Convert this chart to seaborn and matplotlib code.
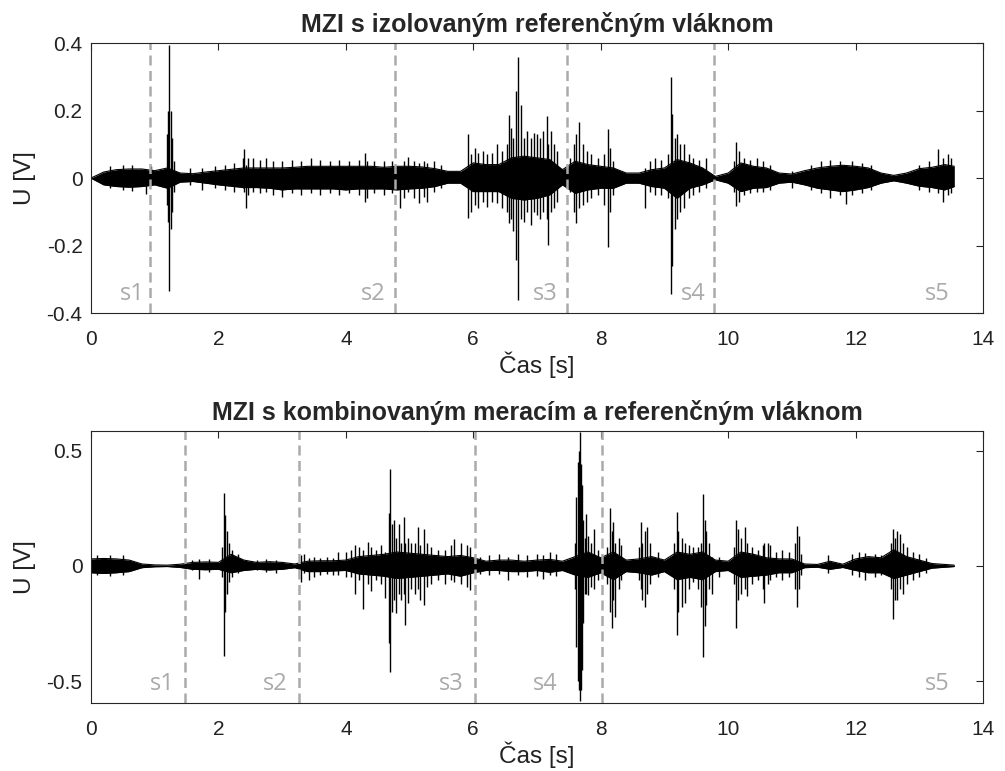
import matplotlib
matplotlib.use("Agg")
import matplotlib.pyplot as plt
import matplotlib.transforms as mtransforms
import seaborn as sns
import pandas as pd

# time grid of the dense signal core (s)
band_t = [0.0, 0.2, 0.4, 0.6, 0.8, 1.0, 1.2, 1.4, 1.6, 1.8, 2.0, 2.2, 2.4, 2.6, 2.8,
          3.0, 3.2, 3.4, 3.6, 3.8, 4.0, 4.2, 4.4, 4.6, 4.8, 5.0, 5.2, 5.4, 5.6, 5.8,
          6.0, 6.2, 6.4, 6.6, 6.8, 7.0, 7.2, 7.4, 7.6, 7.8, 8.0, 8.2, 8.4, 8.6, 8.8,
          9.0, 9.2, 9.4, 9.6, 9.8, 10.0, 10.2, 10.4, 10.6, 10.8, 11.0, 11.2, 11.4,
          11.6, 11.8, 12.0, 12.2, 12.4, 12.6, 12.8, 13.0, 13.2, 13.4, 13.55]

# ---- top panel: core envelope (V) ----
top_hi = [0.0, 0.018, 0.025, 0.027, 0.027, 0.022, 0.030, 0.015, 0.013, 0.018, 0.022,
          0.026, 0.030, 0.030, 0.030, 0.030, 0.032, 0.035, 0.035, 0.035, 0.035, 0.035,
          0.035, 0.032, 0.035, 0.035, 0.033, 0.028, 0.020, 0.020, 0.045, 0.040, 0.040,
          0.060, 0.065, 0.060, 0.055, 0.025, 0.050, 0.040, 0.035, 0.030, 0.015, 0.015,
          0.025, 0.030, 0.055, 0.045, 0.030, 0.005, 0.015, 0.045, 0.035, 0.030, 0.015,
          0.012, 0.022, 0.030, 0.035, 0.038, 0.035, 0.030, 0.015, 0.008, 0.015, 0.028,
          0.032, 0.040, 0.035]
top_lo = [0.0, -0.020, -0.025, -0.027, -0.025, -0.020, -0.030, -0.012, -0.010, -0.015,
          -0.020, -0.024, -0.028, -0.028, -0.030, -0.035, -0.032, -0.032, -0.032, -0.032,
          -0.035, -0.032, -0.032, -0.032, -0.035, -0.032, -0.030, -0.025, -0.015, -0.015,
          -0.040, -0.040, -0.040, -0.060, -0.065, -0.060, -0.050, -0.020, -0.045, -0.035,
          -0.030, -0.030, -0.015, -0.015, -0.025, -0.030, -0.060, -0.030, -0.020, -0.005,
          -0.015, -0.040, -0.030, -0.028, -0.015, -0.012, -0.020, -0.030, -0.035, -0.040,
          -0.035, -0.028, -0.015, -0.008, -0.015, -0.024, -0.028, -0.035, -0.025]

# ---- top panel: spikes (time, max, min) ----
top_spk_t = [0.30, 0.50, 0.65, 0.86, 0.95,
             1.19, 1.21, 1.23, 1.25, 1.27, 1.30,
             1.55, 1.75, 1.95, 2.10, 2.25,
             2.38, 2.40, 2.43, 2.46,
             2.55, 2.65, 2.75, 2.85, 3.00, 3.15, 3.30, 3.45, 3.60, 3.75, 3.90, 4.05,
             4.20, 4.30, 4.34, 4.45, 4.60,
             4.72, 4.85, 4.92, 4.98, 5.07, 5.15, 5.22, 5.28, 5.38, 5.50,
             5.92, 5.97, 6.03, 6.08, 6.15, 6.22, 6.30, 6.38, 6.45,
             6.53, 6.56, 6.60, 6.63, 6.67, 6.70, 6.75, 6.80, 6.85, 6.90, 6.95, 7.00,
             7.05, 7.10, 7.15, 7.17, 7.22, 7.27, 7.32,
             7.52, 7.58, 7.62, 7.66, 7.72, 7.78, 7.85, 7.95, 8.05, 8.11, 8.14, 8.20,
             8.70, 8.78, 8.85, 8.95, 9.05, 9.10, 9.12, 9.16, 9.20, 9.25, 9.30, 9.38,
             9.45, 9.55, 9.65,
             10.10, 10.13, 10.17, 10.25, 10.35, 10.45, 10.55, 10.65, 11.00, 11.30,
             11.45, 11.60, 11.75, 11.85, 11.95, 12.10, 12.25, 13.00, 13.15, 13.30,
             13.38, 13.45, 13.50]
top_spk_hi = [0.035, 0.040, 0.038, 0.012, 0.035,
              0.130, 0.200, 0.394, 0.200, 0.120, 0.050,
              0.030, 0.030, 0.035, 0.040, 0.045,
              0.060, 0.086, 0.040, 0.060,
              0.060, 0.055, 0.060, 0.050, 0.050, 0.055, 0.050, 0.060, 0.055, 0.050,
              0.055, 0.050,
              0.055, 0.074, 0.050, 0.050, 0.050,
              0.050, 0.030, 0.050, 0.063, 0.050, 0.045, 0.050, 0.045, 0.050, 0.040,
              0.131, 0.070, 0.090, 0.075, 0.080, 0.070, 0.075, 0.100, 0.080,
              0.100, 0.188, 0.150, 0.120, 0.257, 0.358, 0.216, 0.120, 0.140, 0.120,
              0.135, 0.130,
              0.120, 0.140, 0.183, 0.100, 0.140, 0.100, 0.080,
              0.060, 0.100, 0.130, 0.167, 0.100, 0.080, 0.070, 0.060, 0.070, 0.145,
              0.090, 0.050,
              0.030, 0.050, 0.060, 0.055, 0.070, 0.300, 0.190, 0.120, 0.130, 0.100,
              0.100, 0.070,
              0.060, 0.055, 0.060,
              0.050, 0.107, 0.080, 0.060, 0.055, 0.060, 0.050, 0.040, 0.020, 0.040,
              0.050, 0.055, 0.050, 0.040, 0.050, 0.045, 0.040, 0.040, 0.050, 0.085,
              0.060, 0.070, 0.060]
top_spk_lo = [-0.030, -0.035, -0.038, -0.047, -0.020,
              -0.080, -0.130, -0.336, -0.150, -0.100, -0.040,
              -0.020, -0.035, -0.030, -0.035, -0.040,
              -0.030, -0.040, -0.089, -0.050,
              -0.040, -0.045, -0.040, -0.050, -0.055, -0.045, -0.050, -0.045, -0.050,
              -0.045, -0.050, -0.045,
              -0.050, -0.070, -0.060, -0.045, -0.050,
              -0.045, -0.089, -0.060, -0.040, -0.060, -0.075, -0.055, -0.070, -0.040,
              -0.030,
              -0.118, -0.100, -0.080, -0.090, -0.070, -0.085, -0.070, -0.075, -0.090,
              -0.100, -0.133, -0.120, -0.158, -0.242, -0.360, -0.120, -0.130, -0.100,
              -0.140, -0.100, -0.110,
              -0.120, -0.100, -0.120, -0.197, -0.100, -0.090, -0.070,
              -0.040, -0.100, -0.134, -0.090, -0.080, -0.070, -0.060, -0.050, -0.080,
              -0.204, -0.100, -0.050,
              -0.090, -0.040, -0.050, -0.050, -0.060, -0.345, -0.260, -0.150, -0.120,
              -0.100, -0.090, -0.060,
              -0.050, -0.040, -0.030,
              -0.040, -0.082, -0.070, -0.050, -0.045, -0.040, -0.040, -0.035, -0.030,
              -0.035, -0.045, -0.060, -0.050, -0.076, -0.050, -0.045, -0.035, -0.035,
              -0.040, -0.045, -0.070, -0.050, -0.045]

# ---- bottom panel: core envelope (V) ----
bot_hi = [0.030, 0.032, 0.030, 0.025, 0.008, 0.004, 0.003, 0.007, 0.015, 0.017, 0.015,
          0.050, 0.025, 0.015, 0.018, 0.015, 0.008, 0.020, 0.022, 0.022, 0.025, 0.040,
          0.045, 0.050, 0.060, 0.055, 0.050, 0.045, 0.040, 0.045, 0.035, 0.020, 0.025,
          0.025, 0.020, 0.025, 0.028, 0.020, 0.040, 0.060, 0.035, 0.060, 0.025, 0.030,
          0.040, 0.025, 0.060, 0.050, 0.060, 0.025, 0.020, 0.060, 0.050, 0.035, 0.030,
          0.030, 0.008, 0.006, 0.020, 0.007, 0.030, 0.040, 0.035, 0.070, 0.040, 0.025,
          0.010, 0.006, 0.003]
bot_lo = [-0.030, -0.033, -0.030, -0.025, -0.008, -0.004, -0.003, -0.007, -0.015,
          -0.017, -0.015, -0.030, -0.020, -0.015, -0.018, -0.015, -0.008, -0.025, -0.025,
          -0.022, -0.020, -0.035, -0.040, -0.045, -0.055, -0.050, -0.045, -0.040, -0.035,
          -0.045, -0.030, -0.020, -0.020, -0.025, -0.025, -0.020, -0.028, -0.020, -0.040,
          -0.050, -0.030, -0.060, -0.025, -0.030, -0.040, -0.025, -0.060, -0.050, -0.060,
          -0.025, -0.020, -0.050, -0.045, -0.040, -0.030, -0.030, -0.008, -0.006, -0.015,
          -0.007, -0.020, -0.030, -0.030, -0.055, -0.040, -0.025, -0.010, -0.006, -0.003]

# ---- bottom panel: spikes (time, max, min) ----
bot_spk_t = [0.10, 0.30, 0.50,
             1.58, 1.70, 1.85,
             2.06, 2.09, 2.11, 2.13, 2.16, 2.22, 2.30,
             2.60, 2.75, 2.90,
             3.30, 3.34, 3.42, 3.50, 3.60, 3.70, 3.80, 3.88,
             4.00, 4.08, 4.14, 4.20, 4.27, 4.35, 4.40, 4.48, 4.55, 4.61,
             4.67, 4.70, 4.73, 4.76, 4.79, 4.83, 4.87, 4.91, 4.93, 4.98, 5.03, 5.08,
             5.13, 5.16, 5.22, 5.28, 5.33,
             5.45, 5.55, 5.65, 5.70, 5.80, 5.90, 5.95,
             6.10, 6.25, 6.40, 6.55, 6.70, 6.85, 7.00, 7.10, 7.20, 7.30,
             7.60, 7.62, 7.64, 7.66, 7.675, 7.69, 7.71, 7.73, 7.75,
             7.77, 7.80, 7.85, 7.90, 7.95,
             8.10, 8.15, 8.17, 8.20, 8.23, 8.28, 8.32,
             8.60, 8.63, 8.65, 8.70, 8.73, 8.78, 8.90,
             9.15, 9.19, 9.22, 9.27, 9.32, 9.38, 9.45,
             9.52, 9.57, 9.61, 9.63, 9.66, 9.70, 9.75, 9.85,
             10.10, 10.13, 10.16, 10.20, 10.26, 10.30, 10.38, 10.47, 10.55, 10.57,
             10.62, 10.66, 10.75, 10.85, 10.95,
             11.05, 11.08, 11.11, 11.15, 11.57,
             11.95, 12.05, 12.15, 12.30, 12.40,
             12.55, 12.59, 12.62, 12.65, 12.70, 12.75, 12.80, 12.90, 13.00, 13.10]
bot_spk_hi = [0.045, 0.048, 0.045,
              0.025, 0.030, 0.030,
              0.080, 0.317, 0.220, 0.150, 0.100, 0.070, 0.050,
              0.025, 0.030, 0.025,
              0.045, 0.050, 0.035, 0.040, 0.035, 0.040, 0.035, 0.060,
              0.060, 0.070, 0.089, 0.080, 0.070, 0.104, 0.080, 0.070, 0.090, 0.060,
              0.229, 0.420, 0.180, 0.200, 0.120, 0.180, 0.100, 0.213, 0.100, 0.120,
              0.100, 0.100,
              0.170, 0.090, 0.160, 0.100, 0.080,
              0.070, 0.070, 0.090, 0.118, 0.100, 0.090, 0.080,
              0.040, 0.045, 0.050, 0.040, 0.050, 0.045, 0.050, 0.045, 0.060, 0.050,
              0.100, 0.300, 0.450, 0.500, 0.580, 0.440, 0.350, 0.200, 0.120,
              0.224, 0.130, 0.100, 0.160, 0.070,
              0.080, 0.253, 0.150, 0.190, 0.100, 0.120, 0.090,
              0.080, 0.190, 0.100, 0.150, 0.170, 0.100, 0.060,
              0.100, 0.233, 0.150, 0.120, 0.100, 0.090, 0.080,
              0.080, 0.100, 0.310, 0.200, 0.150, 0.100, 0.040, 0.040,
              0.080, 0.200, 0.160, 0.120, 0.170, 0.100, 0.080, 0.070, 0.090, 0.100,
              0.100, 0.090, 0.060, 0.070, 0.060,
              0.100, 0.175, 0.130, 0.050, 0.045,
              0.050, 0.060, 0.055, 0.050, 0.045,
              0.100, 0.160, 0.120, 0.150, 0.140, 0.100, 0.080, 0.060, 0.050, 0.035]
bot_spk_lo = [-0.040, -0.045, -0.040,
              -0.020, -0.055, -0.025,
              -0.050, -0.390, -0.200, -0.120, -0.070, -0.050, -0.030,
              -0.020, -0.025, -0.030,
              -0.070, -0.030, -0.060, -0.050, -0.040, -0.035, -0.040, -0.040,
              -0.050, -0.050, -0.123, -0.060, -0.188, -0.080, -0.110, -0.060, -0.080,
              -0.140,
              -0.334, -0.460, -0.200, -0.150, -0.204, -0.120, -0.150, -0.120, -0.255,
              -0.160, -0.100, -0.120,
              -0.100, -0.150, -0.170, -0.090, -0.080,
              -0.060, -0.080, -0.060, -0.070, -0.080, -0.090, -0.106,
              -0.035, -0.040, -0.035, -0.060, -0.040, -0.050, -0.045, -0.055, -0.040,
              -0.045,
              -0.100, -0.350, -0.500, -0.540, -0.587, -0.540, -0.450, -0.250, -0.120,
              -0.120, -0.125, -0.090, -0.100, -0.060,
              -0.080, -0.200, -0.270, -0.150, -0.220, -0.100, -0.060,
              -0.060, -0.100, -0.150, -0.180, -0.120, -0.080, -0.050,
              -0.100, -0.300, -0.200, -0.180, -0.160, -0.100, -0.070,
              -0.100, -0.180, -0.395, -0.260, -0.170, -0.100, -0.120, -0.050,
              -0.080, -0.270, -0.150, -0.120, -0.100, -0.130, -0.080, -0.060, -0.100,
              -0.160, -0.080, -0.060, -0.050, -0.060, -0.050,
              -0.100, -0.180, -0.100, -0.040, -0.030,
              -0.040, -0.050, -0.060, -0.050, -0.040,
              -0.100, -0.230, -0.150, -0.150, -0.100, -0.120, -0.080, -0.060, -0.050,
              -0.030]

# section markers and their labels
top_marks = [0.93, 4.77, 7.47, 9.78]
top_lbl_x = [0.84, 4.63, 7.33, 9.64, 13.48]
bot_marks = [1.48, 3.27, 6.03, 8.02]
bot_lbl_x = [1.32, 3.08, 5.85, 7.33, 13.48]
sec_labels = ["s1", "s2", "s3", "s4", "s5"]

titles = ["MZI s izolovaným referenčným vláknom",
          "MZI s kombinovaným meracím a referenčným vláknom"]

for a, b, c in [(top_spk_t, top_spk_hi, top_spk_lo), (bot_spk_t, bot_spk_hi, bot_spk_lo)]:
    assert len(a) == len(b) == len(c), (len(a), len(b), len(c))
assert len(band_t) == len(top_hi) == len(top_lo) == len(bot_hi) == len(bot_lo)

sns.set_theme(style="white")
plt.rcParams["font.family"] = ["Liberation Sans", "DejaVu Sans"]

fig = plt.figure(figsize=(10.05, 7.71), dpi=100)
ax1 = fig.add_axes([0.0905, 0.594, 0.8876, 0.350])
ax2 = fig.add_axes([0.0905, 0.0882, 0.8876, 0.3528])

panels = [
    (ax1, top_hi, top_lo, top_spk_t, top_spk_hi, top_spk_lo, top_marks, top_lbl_x,
     (-0.4, 0.4), [-0.4, -0.2, 0, 0.2, 0.4], ["-0.4", "-0.2", "0", "0.2", "0.4"]),
    (ax2, bot_hi, bot_lo, bot_spk_t, bot_spk_hi, bot_spk_lo, bot_marks, bot_lbl_x,
     (-0.595, 0.585), [-0.5, 0, 0.5], ["-0.5", "0", "0.5"]),
]

for i, (ax, hi, lo, st, shi, slo, marks, lblx, ylim, yt, ytl) in enumerate(panels):
    df = pd.DataFrame({"t": band_t, "hi": hi, "lo": lo})
    ax.fill_between(df["t"], df["lo"], df["hi"], color="black", lw=0)
    sns.lineplot(data=df, x="t", y="hi", ax=ax, color="black", lw=0.8)
    sns.lineplot(data=df, x="t", y="lo", ax=ax, color="black", lw=0.8)
    ax.vlines(st, slo, shi, color="black", lw=1.0)

    for m in marks:
        ax.axvline(m, color="#aaaaaa", lw=1.8, ls=(0, (4, 2.2)))
    trans = mtransforms.blended_transform_factory(ax.transData, ax.transAxes)
    for x, s in zip(lblx, sec_labels):
        ax.text(x, 0.025, s, transform=trans, ha="right", va="bottom",
                color="#aaaaaa", fontsize=17, family=["Open Sans", "DejaVu Sans"])

    ax.set_xlim(0, 14)
    ax.set_ylim(*ylim)
    ax.set_xticks(range(0, 15, 2))
    ax.set_yticks(yt)
    ax.set_yticklabels(ytl)
    ax.tick_params(direction="in", length=5, width=0.8, labelsize=15,
                   top=True, right=True, colors="#262626")
    ax.tick_params(axis="x", pad=12)
    ax.tick_params(axis="y", pad=6)
    ax.tick_params(axis="both", labelcolor="#222222")
    for sp in ax.spines.values():
        sp.set_color("#262626")
        sp.set_linewidth(0.8)
    ax.set_xlabel("Čas [s]", fontsize=17.5, labelpad=2, color="#222222")
    ax.set_ylabel("U [V]", fontsize=17.5, labelpad=8, color="#222222")
    ax.set_title(titles[i], fontsize=18, fontweight="bold", pad=8)

fig.savefig("out.png", dpi=100)
